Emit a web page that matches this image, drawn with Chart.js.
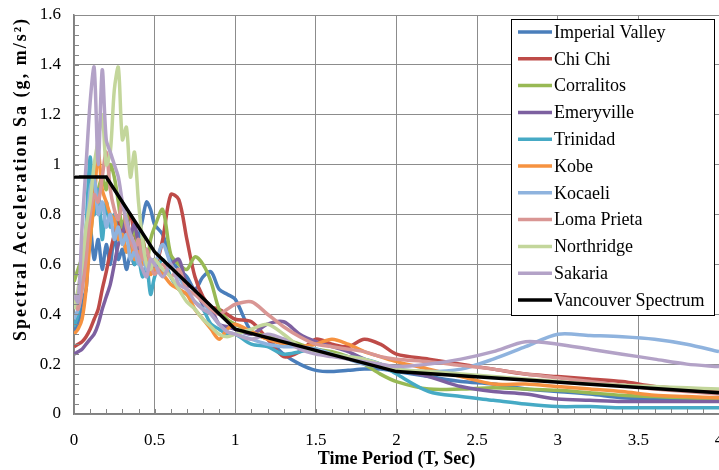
<!DOCTYPE html>
<html>
<head>
<meta charset="utf-8">
<script src="https://cdn.jsdelivr.net/npm/chart.js@4"></script>
<style>
  html, body { margin: 0; padding: 0; background: #fff; overflow: hidden; }
  canvas { display: block; }
</style>
</head>
<body>
<canvas id="myChart" width="719" height="470" style="width:719px;height:470px"></canvas>
<script>
// periods (s) shared by the record spectra
var periods = [0, 0.025, 0.05, 0.075, 0.1, 0.125, 0.15, 0.175, 0.2, 0.225, 0.25, 0.275, 0.3, 0.325, 0.35, 0.375, 0.4, 0.425, 0.45, 0.475,
  0.5, 0.55, 0.6, 0.65, 0.7, 0.75, 0.8, 0.85, 0.9, 0.95,
  1.0, 1.1, 1.2, 1.3, 1.4, 1.5, 1.6, 1.7, 1.8, 1.9,
  2.0, 2.2, 2.4, 2.6, 2.8, 3.0, 3.2, 3.4, 3.6, 3.8, 4.0];

var imperialValley = [0.33, 0.36, 0.45, 0.5, 0.75, 0.62, 0.7, 0.58, 0.68, 0.6, 0.72, 0.62, 0.66, 0.58, 0.64, 0.6, 0.7, 0.78, 0.85, 0.82,
  0.76, 0.72, 0.62, 0.58, 0.55, 0.5, 0.55, 0.57, 0.5, 0.48,
  0.46, 0.33, 0.3, 0.24, 0.2, 0.175, 0.17, 0.175, 0.18, 0.18,
  0.17, 0.15, 0.13, 0.12, 0.1, 0.09, 0.08, 0.065, 0.06, 0.055, 0.055];
var chiChi = [0.27, 0.28, 0.29, 0.31, 0.34, 0.38, 0.42, 0.5, 0.57, 0.65, 0.72, 0.78, 0.7, 0.75, 0.8, 0.72, 0.68, 0.7, 0.62, 0.6,
  0.58, 0.7, 0.88, 0.86, 0.7, 0.55, 0.47, 0.43, 0.42, 0.4,
  0.38, 0.37, 0.3, 0.23, 0.25, 0.3, 0.28, 0.27, 0.3, 0.28,
  0.24, 0.22, 0.2, 0.18, 0.16, 0.15, 0.14, 0.13, 0.11, 0.1, 0.09];
var corralitos = [0.53, 0.58, 0.62, 0.6, 0.7, 0.85, 0.9, 0.95, 0.9, 1.0, 0.95, 0.85, 0.75, 0.8, 0.7, 0.75, 0.65, 0.7, 0.6, 0.7,
  0.75, 0.82, 0.64, 0.6, 0.58, 0.63, 0.6, 0.53, 0.42, 0.38,
  0.36, 0.33, 0.31, 0.3, 0.28, 0.26, 0.25, 0.23, 0.2, 0.16,
  0.13, 0.1, 0.1, 0.105, 0.1, 0.095, 0.085, 0.075, 0.07, 0.065, 0.06];
var emeryville = [0.24, 0.25, 0.26, 0.28, 0.3, 0.32, 0.36, 0.42, 0.47, 0.52, 0.6, 0.68, 0.72, 0.78, 0.72, 0.76, 0.68, 0.62, 0.66, 0.6,
  0.62, 0.57, 0.6, 0.62, 0.52, 0.5, 0.44, 0.42, 0.36, 0.35,
  0.34, 0.32, 0.36, 0.37, 0.32, 0.29, 0.27, 0.25, 0.22, 0.2,
  0.18, 0.15, 0.11, 0.09, 0.08, 0.06, 0.055, 0.05, 0.05, 0.05, 0.05];
var trinidad = [0.35, 0.4, 0.55, 0.75, 1.03, 0.8, 0.9, 0.7, 0.85, 0.75, 0.8, 0.7, 0.72, 0.65, 0.7, 0.6, 0.62, 0.55, 0.6, 0.48,
  0.55, 0.62, 0.55, 0.5, 0.48, 0.45, 0.42, 0.36, 0.34, 0.32,
  0.32, 0.28, 0.27, 0.24, 0.25, 0.26, 0.24, 0.23, 0.22, 0.2,
  0.16, 0.09, 0.07, 0.055, 0.04, 0.03, 0.03, 0.025, 0.025, 0.025, 0.025];
var kobe = [0.32, 0.34, 0.38, 0.5, 0.7, 0.85, 1.05, 0.9, 0.85, 0.8, 0.78, 0.7, 0.72, 0.65, 0.7, 0.62, 0.65, 0.6, 0.62, 0.56,
  0.58, 0.56, 0.52, 0.5, 0.48, 0.42, 0.38, 0.34, 0.3, 0.34,
  0.36, 0.33, 0.3, 0.28, 0.27, 0.28, 0.3, 0.28, 0.25, 0.23,
  0.21, 0.18, 0.15, 0.12, 0.12, 0.11, 0.1, 0.09, 0.075, 0.07, 0.065];
var kocaeli = [0.38, 0.42, 0.5, 0.7, 0.9, 0.95, 0.8, 0.85, 0.75, 0.8, 0.7, 0.75, 0.68, 0.72, 0.62, 0.65, 0.6, 0.65, 0.58, 0.62,
  0.6, 0.68, 0.6, 0.55, 0.5, 0.48, 0.45, 0.4, 0.36, 0.33,
  0.32, 0.3, 0.28, 0.27, 0.27, 0.26, 0.24, 0.22, 0.2, 0.19,
  0.18, 0.17, 0.18, 0.22, 0.27, 0.32, 0.315, 0.31, 0.3, 0.28, 0.25];
var lomaPrieta = [0.45, 0.42, 0.5, 0.62, 0.8, 0.88, 0.85, 0.95, 1.05, 0.9, 0.82, 0.78, 0.85, 0.75, 0.7, 0.66, 0.7, 0.62, 0.66, 0.6,
  0.56, 0.6, 0.55, 0.58, 0.5, 0.48, 0.45, 0.42, 0.4, 0.42,
  0.44, 0.45, 0.4, 0.35, 0.31, 0.28, 0.27, 0.26, 0.25, 0.23,
  0.22, 0.21, 0.195, 0.18, 0.16, 0.145, 0.13, 0.115, 0.1, 0.09, 0.08];
var northridge = [0.42, 0.5, 0.6, 0.75, 0.85, 1.0, 1.1, 1.2, 1.0, 1.05, 1.3, 1.39, 1.1, 1.15, 0.95, 1.05, 0.85, 0.7, 0.6, 0.58,
  0.62, 0.58, 0.55, 0.5, 0.45, 0.42, 0.38, 0.35, 0.32, 0.31,
  0.32, 0.34, 0.36, 0.32, 0.27, 0.25, 0.24, 0.23, 0.22, 0.2,
  0.18, 0.17, 0.16, 0.15, 0.14, 0.13, 0.12, 0.115, 0.11, 0.105, 0.1];
var sakaria = [0.48, 0.45, 0.75, 1.0, 1.25, 1.39, 1.0, 1.38, 1.1, 1.05, 1.0, 0.95, 0.85, 0.78, 0.72, 0.68, 0.62, 0.58, 0.55, 0.62,
  0.6, 0.55, 0.6, 0.52, 0.5, 0.45, 0.42, 0.4, 0.36, 0.33,
  0.32, 0.3, 0.32, 0.3, 0.26, 0.24, 0.23, 0.22, 0.21, 0.2,
  0.19, 0.2, 0.22, 0.25, 0.29, 0.28, 0.26, 0.24, 0.22, 0.2, 0.19];

// design spectrum
var vancouverT = [0, 0.2, 0.5, 1.0, 2.0, 4.0];
var vancouverSa = [0.95, 0.95, 0.65, 0.34, 0.17, 0.085];

var seriesNames = ["Imperial Valley", "Chi Chi", "Corralitos", "Emeryville", "Trinidad", "Kobe", "Kocaeli", "Loma Prieta", "Northridge", "Sakaria"];
var seriesValues = [imperialValley, chiChi, corralitos, emeryville, trinidad, kobe, kocaeli, lomaPrieta, northridge, sakaria];
var seriesColors = ["#4a7ebb", "#be4b48", "#98b954", "#7d60a0", "#46aac5", "#f69240", "#8fb3de", "#d99694", "#c3d69b", "#b3a2c7"];

var xTickLabels = ["0", "0.5", "1", "1.5", "2", "2.5", "3", "3.5", "4"];
var yTickLabels = ["0", "0.2", "0.4", "0.6", "0.8", "1", "1.2", "1.4", "1.6"];
var yTitle = "Spectral Acceleration Sa (g, m/s²)";

var serif = "'Liberation Serif', 'Times New Roman', serif";

var datasets = seriesValues.map(function (vals, i) {
  return {
    label: seriesNames[i],
    data: periods.map(function (t, j) { return {x: t, y: vals[j]}; }),
    borderColor: seriesColors[i],
    borderWidth: 3.5,
    pointRadius: 0,
    tension: 0.3,
    fill: false,
    order: 10 - i
  };
});
datasets.push({
  label: "Vancouver Spectrum",
  data: vancouverT.map(function (t, j) { return {x: t, y: vancouverSa[j]}; }),
  borderColor: "#000000",
  borderWidth: 3.5,
  pointRadius: 0,
  tension: 0,
  fill: false,
  order: 0
});

// minor tick marks, y title and the boxed legend inside the plot
var extras = {
  id: 'extras',
  afterDraw: function (chart) {
    var c = chart.ctx, xs = chart.scales.x, ys = chart.scales.y;
    var a = chart.chartArea;
    c.save();
    c.strokeStyle = '#868686';
    c.lineWidth = 1;
    c.beginPath();
    for (var v = 0.1; v < 4.0; v += 0.1) {
      var px = Math.round(xs.getPixelForValue(v)) + 0.5;
      c.moveTo(px, a.bottom);
      c.lineTo(px, a.bottom - 5);
    }
    for (var w = 0.04; w < 1.6; w += 0.04) {
      var py = Math.round(ys.getPixelForValue(w)) + 0.5;
      c.moveTo(a.left, py);
      c.lineTo(a.left + 5, py);
    }
    c.stroke();

    // y axis title (stretched like the original)
    c.save();
    c.translate(21, 179);
    c.rotate(-Math.PI / 2);
    c.font = "bold 18px " + serif;
    var tw = c.measureText(yTitle).width;
    if ('letterSpacing' in c) {
      c.letterSpacing = ((322 - tw) / (yTitle.length - 1)).toFixed(2) + 'px';
    }
    c.fillStyle = '#000';
    c.textAlign = 'center';
    c.textBaseline = 'middle';
    c.fillText(yTitle, 0, 0);
    c.restore();

    // legend
    var lx = 511.5, ly = 19.5, lw = 203, lh = 296;
    c.fillStyle = '#fff';
    c.fillRect(lx, ly, lw, lh);
    c.strokeStyle = '#000';
    c.lineWidth = 1;
    c.strokeRect(lx, ly, lw, lh);
    c.font = "18px " + serif;
    c.textBaseline = 'middle';
    chart.data.datasets.forEach(function (ds, i) {
      var y = 32 + i * 26.8;
      c.strokeStyle = ds.borderColor;
      c.lineWidth = 3.5;
      c.beginPath();
      c.moveTo(518, y);
      c.lineTo(552, y);
      c.stroke();
      c.fillStyle = '#000';
      c.fillText(ds.label, 554, y + 1);
    });
    c.restore();
  }
};

const ctx = document.getElementById('myChart').getContext('2d');
let myChart = new Chart(ctx, {
  type: 'line',
  data: { datasets: datasets },
  options: {
    responsive: false,
    animation: false,
    devicePixelRatio: 1,
    layout: { padding: { top: 15, left: 0, right: 0, bottom: 0 } },
    scales: {
      x: {
        type: 'linear',
        min: 0,
        max: 4,
        ticks: {
          stepSize: 0.5,
          color: '#000',
          font: { family: serif, size: 17 },
          padding: 16,
          maxRotation: 0,
          callback: function (val, idx) { return xTickLabels[idx]; }
        },
        grid: { color: '#8c8c8c', lineWidth: 1, drawTicks: false },
        border: { color: '#808080', width: 1.5 },
        title: {
          display: true,
          text: 'Time Period (T, Sec)',
          color: '#000',
          font: { family: serif, size: 18, weight: 'bold' },
          padding: { top: 2, bottom: 0 }
        },
        afterFit: function (scale) {
          scale.height = 56;
          scale.paddingLeft = 0;
          scale.paddingRight = 0;
        }
      },
      y: {
        min: 0,
        max: 1.6,
        ticks: {
          stepSize: 0.2,
          color: '#000',
          font: { family: serif, size: 17 },
          padding: 13,
          callback: function (val, idx) { return yTickLabels[idx]; }
        },
        grid: { color: '#8c8c8c', lineWidth: 1, drawTicks: false },
        border: { color: '#808080', width: 1.5 },
        afterFit: function (scale) {
          scale.width = 74;
          scale.paddingTop = 0;
          scale.paddingBottom = 0;
        }
      }
    },
    plugins: {
      legend: { display: false },
      tooltip: { enabled: false }
    }
  },
  plugins: [extras]
});
</script>
</body>
</html>
